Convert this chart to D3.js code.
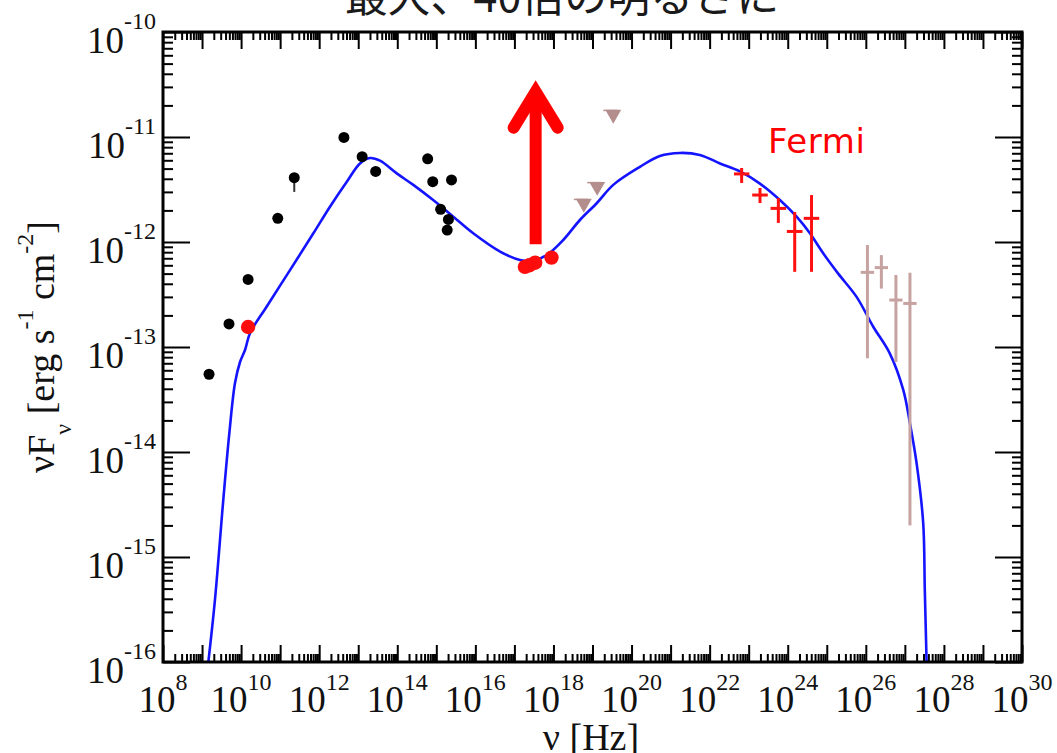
<!DOCTYPE html>
<html><head><meta charset="utf-8">
<script src="https://cdn.jsdelivr.net/npm/d3@7"></script>
<style>body{margin:0;background:#fff}svg{display:block}</style>
</head><body>
<script>
// ---- Broadband SED data (ν in Hz, νFν in erg s^-1 cm^-2) ----
const archiveNu = [1.51e9, 4.9e9, 1.51e10, 8.7e10, 2.3e11, 4.3e12, 1.26e13, 2.8e13, 6.0e14, 8.1e14, 2.45e15, 1.29e15, 2.04e15, 1.9e15];
const archiveF  = [5.5e-14, 1.66e-13, 4.4e-13, 1.68e-12, 4.1e-12, 9.9e-12, 6.5e-12, 4.7e-12, 6.2e-12, 3.75e-12, 3.9e-12, 2.05e-12, 1.64e-12, 1.3e-12];
const archiveErrIdx = 4;           // the one archival point drawn with an error bar
const archiveErrLo = 3.0e-12, archiveErrHi = 4.4e-12;

const flareNu = [1.51e10, 1.86e17, 2.4e17, 3.4e17, 8.9e17];
const flareF  = [1.55e-13, 5.8e-13, 6.0e-13, 6.35e-13, 7.1e-13];

const ulNu = [6.0e18, 1.32e19, 3.4e19];
const ulF  = [2.33e-12, 3.37e-12, 1.64e-11];

const fermiNu   = [6.6e22, 1.95e23, 5.75e23, 1.51e24, 4.07e24];
const fermiNuLo = [4.2e22, 1.23e23, 3.63e23, 9.5e23, 2.57e24];
const fermiNuHi = [1.04e23, 3.08e23, 9.1e23, 2.39e24, 6.4e24];
const fermiF    = [4.45e-12, 2.8e-12, 2.09e-12, 1.26e-12, 1.68e-12];
const fermiFLo  = [3.65e-12, 2.35e-12, 1.52e-12, 5.2e-13, 5.2e-13];
const fermiFHi  = [5.07e-12, 3.27e-12, 2.62e-12, 1.93e-12, 2.8e-12];

const tevNu   = [1.1e26, 2.5e26, 5.9e26, 1.35e27];
const tevNuLo = [7.4e25, 1.69e26, 4.0e26, 9.1e26];
const tevNuHi = [1.63e26, 3.7e26, 8.7e26, 2.0e27];
const tevF    = [5.14e-13, 5.7e-13, 2.8e-13, 2.6e-13];
const tevFLo  = [7.8e-14, 3.6e-13, 7.2e-14, 2.0e-15];
const tevFHi  = [9.35e-13, 7.5e-13, 4.85e-13, 5.1e-13];

const modelNu = [1.45e9, 2.14e9, 3.5e9, 5.0e9, 6.98e9, 9.4e9, 1.26e10, 1.7e10, 4.5e10, 1.79e11, 7.1e11, 1.89e12, 5.1e12, 1.11e13, 2.0e13, 3.6e13, 9.7e13, 2.57e14, 8.3e14, 2.72e15, 8.8e15, 4.3e16, 1.39e17, 3.04e17, 6.7e17, 1.78e18, 4.76e18, 1.28e19, 3.4e19, 1.64e20, 5.3e20, 1.74e21, 5.6e21, 1.84e22, 5.97e22, 1.94e23, 6.3e23, 1.69e24, 3.7e24, 8.1e24, 1.96e25, 5.8e25, 1.55e26, 4.1e26, 9.1e26, 1.35e27, 2.0e27, 2.95e27, 3.24e27, 3.6e27];
const modelF  = [1e-16, 3.9e-16, 3.5e-15, 1.51e-14, 4.54e-14, 7.2e-14, 9.36e-14, 1.36e-13, 2.42e-13, 5.4e-13, 1.21e-12, 2.17e-12, 3.75e-12, 5.6e-12, 6.3e-12, 5.95e-12, 4.5e-12, 3.5e-12, 2.51e-12, 1.74e-12, 1.21e-12, 8.1e-13, 6.75e-13, 6.65e-13, 7.5e-13, 1.045e-12, 1.62e-12, 2.34e-12, 3.5e-12, 5.2e-12, 6.6e-12, 7.05e-12, 6.75e-12, 5.6e-12, 4.7e-12, 3.6e-12, 2.51e-12, 1.74e-12, 1.21e-12, 7.8e-13, 5.0e-13, 3.0e-13, 1.56e-13, 8.7e-14, 3.9e-14, 1.87e-14, 7.8e-15, 2.1e-15, 4.9e-16, 1e-16];

// brightening arrow: from the X-ray flux up towards the flare level
const arrowNu = 3.5e17;
const arrowFrom = 9.5e-13, arrowTo = 2.7e-11;

const xLabelExps = [8, 10, 12, 14, 16, 18, 20, 22, 24, 26, 28, 30];
const yLabelExps = [-10, -11, -12, -13, -14, -15, -16];

// ---- layout ----
const W = 1057, H = 753;
const L = 163, R = 1022, T = 32, B = 662;
const svg = d3.select("body").append("svg").attr("width", W).attr("height", H);

const x = d3.scaleLog().domain([1e8, 1e30]).range([L, R]);
const y = d3.scaleLog().domain([1e-16, 1e-10]).range([B, T]);

function logTicks(lo, hi) {
  const major = [], minor = [];
  for (let e = lo; e < hi; e++) {
    major.push(Math.pow(10, e));
    for (let k = 2; k <= 9; k++) minor.push(k * Math.pow(10, e));
  }
  major.push(Math.pow(10, hi));
  return {major, minor};
}
const xt = logTicks(8, 30), yt = logTicks(-16, -10);

function tickGroup(axis, tr) {
  const g = svg.append("g").attr("transform", tr).call(axis);
  g.select(".domain").remove();
  g.selectAll(".tick line").attr("stroke", "#000").attr("stroke-width", 2);
  return g;
}
const serif = "'Liberation Serif','Times New Roman',serif";
tickGroup(d3.axisBottom(x).tickValues(xt.major).tickSize(-17).tickFormat(""), `translate(0,${B})`);
tickGroup(d3.axisBottom(x).tickValues(xt.minor).tickSize(-8).tickFormat(""), `translate(0,${B})`);
tickGroup(d3.axisTop(x).tickValues(xt.major).tickSize(-17).tickFormat(""), `translate(0,${T})`);
tickGroup(d3.axisTop(x).tickValues(xt.minor).tickSize(-8).tickFormat(""), `translate(0,${T})`);
tickGroup(d3.axisLeft(y).tickValues(yt.major).tickSize(-27).tickFormat(""), `translate(${L},0)`);
tickGroup(d3.axisLeft(y).tickValues(yt.minor).tickSize(-10).tickFormat(""), `translate(${L},0)`);
tickGroup(d3.axisRight(y).tickValues(yt.major).tickSize(-27).tickFormat(""), `translate(${R},0)`);
tickGroup(d3.axisRight(y).tickValues(yt.minor).tickSize(-10).tickFormat(""), `translate(${R},0)`);

// tick labels as 10^n
const xl = svg.append("g").attr("font-family", serif).attr("fill", "#111");
xLabelExps.forEach(e => {
  const t = xl.append("text").attr("x", x(Math.pow(10, e))).attr("y", 712)
    .attr("text-anchor", "middle").attr("font-size", 37);
  t.append("tspan").text("10");
  t.append("tspan").attr("dy", -22).attr("font-size", 24).text(e);
});
const yl = svg.append("g").attr("font-family", serif).attr("fill", "#111");
yLabelExps.forEach(e => {
  const t = yl.append("text").attr("x", 156).attr("y", y(Math.pow(10, e)) + 21)
    .attr("text-anchor", "end").attr("font-size", 37);
  t.append("tspan").text("10");
  t.append("tspan").attr("dy", -24).attr("font-size", 24).text(e);
});

// axis titles
svg.append("text").attr("x", 591).attr("y", 750).attr("text-anchor", "middle")
  .attr("font-family", serif).attr("font-size", 38).attr("fill", "#111").text("ν [Hz]");

const yt2 = svg.append("text").attr("transform", "translate(54,347) rotate(-90)")
  .attr("text-anchor", "middle").attr("font-family", serif).attr("font-size", 38).attr("fill", "#111");
yt2.append("tspan").text("νF");
yt2.append("tspan").attr("dy", 17).attr("font-size", 24).text("ν");
yt2.append("tspan").attr("dy", -17).text(" [erg s");
yt2.append("tspan").attr("dy", -21).attr("font-size", 24).text("-1");
yt2.append("tspan").attr("dy", 21).text(" cm");
yt2.append("tspan").attr("dy", -21).attr("font-size", 24).text("-2");
yt2.append("tspan").attr("dy", 21).text("]");

// title (cut by the top edge)
svg.append("text").attr("x", 562).attr("y", 12).attr("text-anchor", "middle")
  .attr("font-family", "'Noto Sans CJK JP',sans-serif").attr("font-size", 43).attr("fill", "#1a1a1a")
  .text("最大、40倍の明るさに");

// plot clip
svg.append("clipPath").attr("id", "plotClip").append("rect")
  .attr("x", L).attr("y", T).attr("width", R - L).attr("height", B - T);
const plot = svg.append("g").attr("clip-path", "url(#plotClip)");

// model curve
const model = modelNu.map((n, i) => [n, modelF[i]]);
plot.append("path").datum(model)
  .attr("d", d3.line().x(d => x(d[0])).y(d => y(d[1])).curve(d3.curveCatmullRom.alpha(0.5)))
  .attr("fill", "none").attr("stroke", "#1414ff").attr("stroke-width", 2.6);

// archival points
plot.append("line").attr("x1", x(archiveNu[archiveErrIdx])).attr("x2", x(archiveNu[archiveErrIdx]))
  .attr("y1", y(archiveErrLo)).attr("y2", y(archiveErrHi)).attr("stroke", "#333").attr("stroke-width", 2);
plot.selectAll("circle.arch").data(archiveNu).join("circle").attr("class", "arch")
  .attr("cx", d => x(d)).attr("cy", (d, i) => y(archiveF[i])).attr("r", 5.5).attr("fill", "#000");

// TeV points
const tev = plot.append("g").attr("stroke", "#c6a2a0").attr("stroke-width", 3);
tevNu.forEach((n, i) => {
  tev.append("line").attr("x1", x(n)).attr("x2", x(n)).attr("y1", y(tevFLo[i])).attr("y2", y(tevFHi[i]));
  tev.append("line").attr("x1", x(tevNuLo[i])).attr("x2", x(tevNuHi[i])).attr("y1", y(tevF[i])).attr("y2", y(tevF[i]));
});

// Fermi points
const fe = plot.append("g").attr("stroke", "#ff1010").attr("stroke-width", 3);
fermiNu.forEach((n, i) => {
  fe.append("line").attr("x1", x(n)).attr("x2", x(n)).attr("y1", y(fermiFLo[i])).attr("y2", y(fermiFHi[i]));
  fe.append("line").attr("x1", x(fermiNuLo[i])).attr("x2", x(fermiNuHi[i])).attr("y1", y(fermiF[i])).attr("y2", y(fermiF[i]));
});

// X-ray upper limits (downward triangles)
const tri = d3.symbol().type(d3.symbolTriangle).size(110);
ulNu.forEach((n, i) => {
  plot.append("line").attr("x1", x(n) - 10).attr("x2", x(n) + 4).attr("y1", y(ulF[i]) - 4).attr("y2", y(ulF[i]) - 4)
    .attr("stroke", "#b89392").attr("stroke-width", 1.5);
  plot.append("path").attr("d", tri).attr("transform", `translate(${x(n)},${y(ulF[i])}) rotate(180)`)
    .attr("fill", "#b38e8c");
});

// flare-state points
plot.selectAll("circle.flare").data(flareNu).join("circle").attr("class", "flare")
  .attr("cx", d => x(d)).attr("cy", (d, i) => y(flareF[i])).attr("r", 7.2).attr("fill", "#ff0d0d");

// brightening arrow
const ax = x(arrowNu), ay0 = y(arrowFrom), ay1 = y(arrowTo);
svg.append("line").attr("x1", ax).attr("x2", ax).attr("y1", ay0).attr("y2", ay1 + 8)
  .attr("stroke", "#ff0000").attr("stroke-width", 12);
svg.append("path").attr("d", `M${ax - 22},${ay1 + 36} L${ax},${ay1} L${ax + 22},${ay1 + 36}`)
  .attr("fill", "none").attr("stroke", "#ff0000").attr("stroke-width", 12)
  .attr("stroke-linecap", "round").attr("stroke-linejoin", "miter");

// Fermi label
svg.append("text").attr("x", 768).attr("y", 153).attr("font-family", "'DejaVu Sans',sans-serif")
  .attr("font-size", 34).attr("fill", "#ff0000").attr("textLength", 97).text("Fermi");

// frame
svg.append("rect").attr("x", L).attr("y", T).attr("width", R - L).attr("height", B - T)
  .attr("fill", "none").attr("stroke", "#000").attr("stroke-width", 3);
</script>
</body></html>
